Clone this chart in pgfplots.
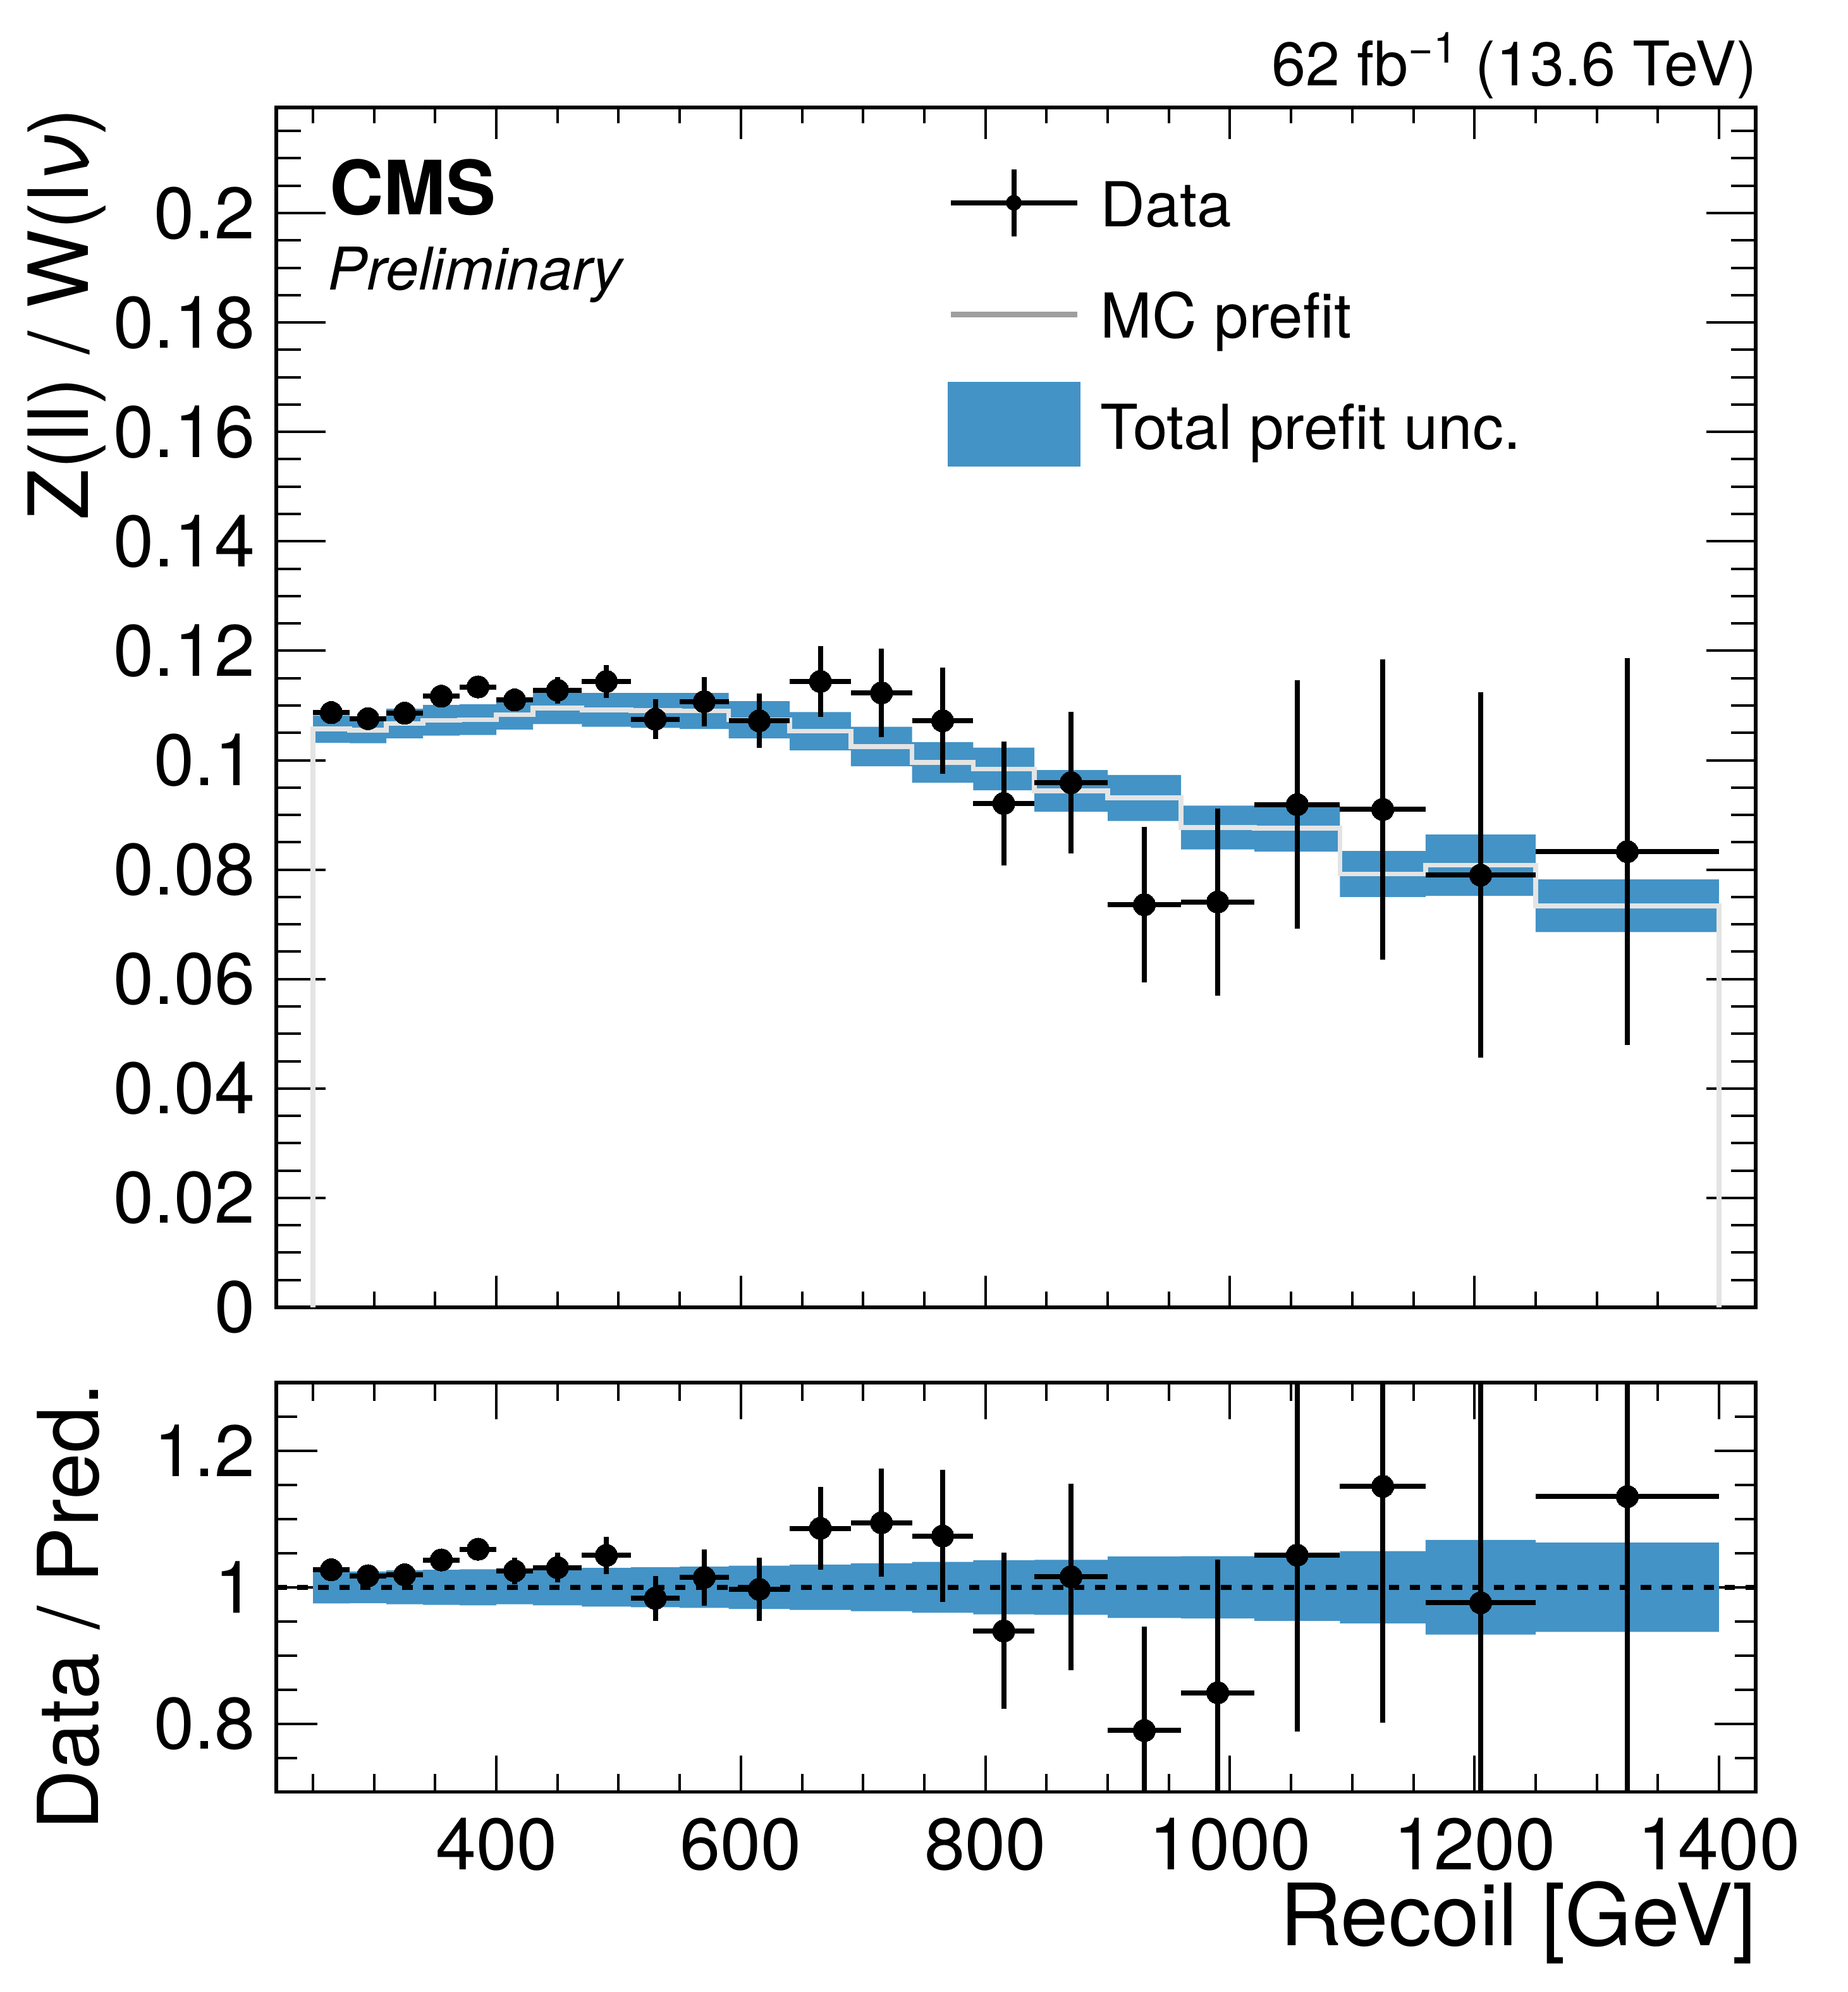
\documentclass[border=0pt]{standalone}
\usepackage{fontspec}
\setmainfont{TeX Gyre Heros}
\usepackage{pgfplots}
\pgfplotsset{compat=1.18}
\usepackage{pgfplotstable}
\usepgfplotslibrary{fillbetween}

\definecolor{bandblue}{RGB}{67,147,198}
\definecolor{mcline}{RGB}{228,228,228}
\definecolor{mcleg}{RGB}{158,158,158}

% data: bin centre, half width, ratio Z/W, error, data/pred, error
\pgfplotstableread{
x    ex  y       ey      r       er
265  15  0.1087  0.0008  1.0256  0.0076
295  15  0.1076  0.0008  1.0169  0.0076
325  15  0.1086  0.0008  1.0182  0.0075
355  15  0.1117  0.0010  1.0401  0.0093
385  15  0.1134  0.0012  1.0558  0.0112
415  15  0.1110  0.0021  1.0240  0.0195
450  20  0.1128  0.0024  1.0289  0.0215
490  20  0.1144  0.0030  1.0467  0.0275
530  20  0.1075  0.0036  0.9839  0.0330
570  20  0.1107  0.0045  1.0145  0.0413
615  25  0.1072  0.0050  0.9971  0.0460
665  25  0.1144  0.0065  1.0864  0.0610
715  25  0.1123  0.0081  1.0946  0.0790
765  25  0.1072  0.0097  1.0752  0.0970
815  25  0.0921  0.0113  0.9360  0.1145
870  30  0.0959  0.0129  1.0155  0.1367
930  30  0.0736  0.0142  0.7900  0.1525
990  30  0.0741  0.0171  0.8455  0.1950
1055 35  0.0919  0.0227  1.0471  0.2590
1125 35  0.0910  0.0274  1.1479  0.3460
1205 45  0.0790  0.0334  0.9773  0.4130
1325 75  0.0833  0.0354  1.1330  0.4820
}\datatab

% prefit uncertainty band: lower bin edge, lo, hi, ratio lo, ratio hi
\pgfplotstableread{
x     lo      hi      rlo     rhi
250   0.1032  0.1082  0.9763  1.0237
280   0.1031  0.1080  0.9768  1.0232
310   0.1040  0.1094  0.9751  1.0249
340   0.1045  0.1101  0.9743  1.0257
370   0.1046  0.1102  0.9736  1.0264
400   0.1056  0.1110  0.9751  1.0249
430   0.1066  0.1124  0.9735  1.0265
470   0.1061  0.1123  0.9716  1.0284
510   0.1059  0.1123  0.9707  1.0293
550   0.1057  0.1123  0.9697  1.0303
590   0.1040  0.1108  0.9683  1.0317
640   0.1018  0.1088  0.9668  1.0332
690   0.0989  0.1061  0.9649  1.0351
740   0.0959  0.1033  0.9629  1.0371
790   0.0945  0.1023  0.9604  1.0396
840   0.0906  0.0982  0.9597  1.0403
900   0.0889  0.0973  0.9549  1.0451
960   0.0837  0.0917  0.9544  1.0456
1020  0.0833  0.0919  0.9509  1.0491
1090  0.0750  0.0834  0.9470  1.0530
1160  0.0752  0.0864  0.9307  1.0693
1250  0.0686  0.0782  0.9346  1.0654
1400  0.0686  0.0782  0.9346  1.0654
}\bandtab

% MC prefit histogram outline
\pgfplotstableread{
x     y
250   0
250   0.1057
280   0.1055
310   0.1067
340   0.1073
370   0.1074
400   0.1083
430   0.1095
470   0.1092
510   0.1091
550   0.1090
590   0.1074
640   0.1053
690   0.1025
740   0.0996
790   0.0984
840   0.0944
900   0.0931
960   0.0877
1020  0.0876
1090  0.0792
1160  0.0808
1250  0.0734
1400  0.0734
1400  0
}\mctab

\pgfplotsset{
  cmsbase/.style={
    scale only axis, width=585pt,
    xmin=220, xmax=1430,
    tick align=inside,
    axis line style={line width=1.4pt, black},
    tick label style={font=\fontsize{28.8}{34}\selectfont, inner sep=0pt},
    y tick label style={xshift=-8.1pt},
    /pgf/number format/assume math mode=true,
    scaled x ticks=false, scaled y ticks=false,
    xtick={400,600,800,1000,1200,1400},
    minor xtick={250,300,...,1400},
    x tick label style={/pgf/number format/1000 sep={}, yshift=-10pt},
    clip mode=individual,
  },
}

\begin{document}
\begin{tikzpicture}

% ---------------- upper panel ----------------
\begin{axis}[
  cmsbase,
  at={(0pt,0pt)}, anchor=south west,
  height=474.5pt,
  ymin=0, ymax=0.2193,
  xticklabels={},
  ytick={0,0.02,0.04,0.06,0.08,0.1,0.12,0.14,0.16,0.18,0.2},
  minor ytick={0.005,0.01,...,0.216},
  y tick label style={/pgf/number format/.cd, fixed, precision=2},
  major x tick style={line width=1pt, black, /pgfplots/major tick length=12.5pt},
  minor x tick style={line width=1pt, black, /pgfplots/minor tick length=6.25pt},
  major y tick style={line width=1pt, black, /pgfplots/major tick length=19.5pt},
  minor y tick style={line width=1pt, black, /pgfplots/minor tick length=9.75pt},
  ylabel={Z(ll) / W(l\textit{ν})},
  ylabel style={at={(axis description cs:-0.12692,1)}, anchor=base east,
    inner sep=0pt, font=\fontsize{32.8}{40}\selectfont},
  legend style={
    at={(axis description cs:0.45427,0.93846)}, anchor=north west,
    draw=none, fill=none, inner sep=0pt, outer sep=0pt,
    row sep=22pt, column sep=8.25pt,
    font=\fontsize{24.5}{29}\selectfont,
    nodes={inner sep=0pt, outer sep=0pt, text height=18pt, text depth=4pt, anchor=base west},
  },
  legend cell align=left,
]
\addlegendimage{legend image code/.code={
  \path[draw=none, fill=none] (0pt,0pt) rectangle (52pt,0pt);
  \begin{scope}[overlay]
  \draw[black,line width=2pt] (0.9pt,9.5pt) -- (50.9pt,9.5pt);
  \draw[black,line width=2pt] (25.9pt,-3.75pt) -- (25.9pt,22.75pt);
  \fill[black] (25.9pt,9.5pt) circle (2.9pt);
  \end{scope}
}}
\addlegendentry{Data}
\addlegendimage{legend image code/.code={
  \path[draw=none, fill=none] (0pt,0pt) rectangle (52pt,0pt);
  \begin{scope}[overlay]
  \draw[mcleg,line width=2.3pt] (0.9pt,9.25pt) -- (50.9pt,9.25pt);
  \end{scope}
}}
\addlegendentry{MC prefit}
\addlegendimage{legend image code/.code={
  \path[draw=none, fill=none] (0pt,0pt) rectangle (52pt,0pt);
  \begin{scope}[overlay]
  \fill[bandblue] (0pt,-6.6pt) rectangle (52pt,26.4pt);
  \end{scope}
}}
\addlegendentry{Total prefit unc.}

\addplot[name path=hi, const plot, draw=none, forget plot] table[x=x, y=hi] {\bandtab};
\addplot[name path=lo, const plot, draw=none, forget plot] table[x=x, y=lo] {\bandtab};
\addplot[bandblue, draw=none, forget plot] fill between[of=hi and lo];
\addplot[const plot, mcline, line width=1.9pt, forget plot] table[x=x, y=y] {\mctab};
\addplot[forget plot, only marks, mark=*, mark size=4.4pt, black,
  mark options={fill=black, draw=black, line width=0pt},
  error bars/.cd, x dir=both, x explicit, y dir=both, y explicit,
  error mark=none, error bar style={line width=2pt, black}]
  table[x=x, y=y, x error=ex, y error=ey] {\datatab};

\node[anchor=base west, inner sep=0pt, font=\fontsize{29.6}{36}\selectfont\bfseries]
  at (axis description cs:0.0356,0.91043) {CMS};
\node[anchor=base west, inner sep=0pt, font=\fontsize{23.3}{28}\selectfont\itshape]
  at (axis description cs:0.0345,0.84773) {Preliminary};
\node[anchor=base east, inner sep=0pt, font=\fontsize{24.3}{30}\selectfont]
  at (axis description cs:1.001,1.01791) {62 fb\textsuperscript{−1} (13.6 TeV)};
\end{axis}

% ---------------- lower panel ----------------
\begin{axis}[
  cmsbase,
  at={(0pt,-29.75pt)}, anchor=north west,
  height=161.9pt,
  ymin=0.7, ymax=1.3,
  ytick={0.8,1,1.2},
  minor ytick={0.7,0.75,...,1.31},
  major x tick style={line width=1pt, black, /pgfplots/major tick length=14.5pt},
  minor x tick style={line width=1pt, black, /pgfplots/minor tick length=7.25pt},
  major y tick style={line width=1pt, black, /pgfplots/major tick length=16.25pt},
  minor y tick style={line width=1pt, black, /pgfplots/minor tick length=8.25pt},
  xlabel={Recoil [GeV]},
  xlabel style={at={(axis description cs:1.001,-0.37523)}, anchor=base east,
    inner sep=0pt, font=\fontsize{34}{40}\selectfont},
  ylabel={Data / Pred.},
  ylabel style={at={(axis description cs:-0.12009,1)}, anchor=base east,
    inner sep=0pt, font=\fontsize{33.2}{40}\selectfont},
]
\addplot[name path=rhi, const plot, draw=none, forget plot] table[x=x, y=rhi] {\bandtab};
\addplot[name path=rlo, const plot, draw=none, forget plot] table[x=x, y=rlo] {\bandtab};
\addplot[bandblue, draw=none, forget plot] fill between[of=rhi and rlo];
\addplot[black, line width=2pt, dash pattern=on 4.15pt off 4.15pt, forget plot]
  coordinates {(220,1) (1430,1)};
\addplot[forget plot, only marks, mark=*, mark size=4.4pt, black,
  mark options={fill=black, draw=black, line width=0pt},
  error bars/.cd, x dir=both, x explicit, y dir=both, y explicit,
  error mark=none, error bar style={line width=2pt, black}]
  table[x=x, y=r, x error=ex, y error=er] {\datatab};
\end{axis}

\pgfresetboundingbox
\useasboundingbox (-109.25pt,-270.75pt) rectangle (621.5pt,517pt);
\end{tikzpicture}
\end{document}
